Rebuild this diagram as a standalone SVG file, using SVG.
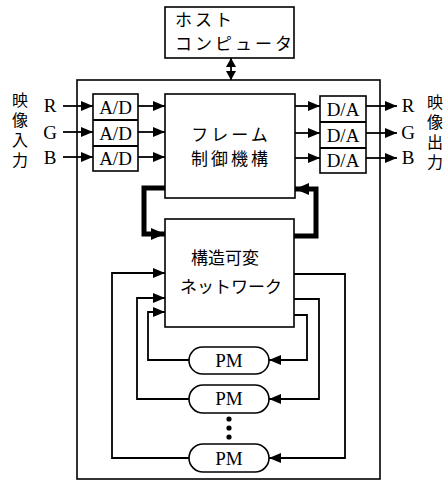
<svg xmlns="http://www.w3.org/2000/svg" width="448" height="488" viewBox="0 0 448 488">
<style>
.box{fill:#fff;stroke:#000;stroke-width:1.6}
.ln{fill:none;stroke:#000;stroke-width:1.8}
.thick{fill:none;stroke:#000;stroke-width:5}
.jp{font-family:"Noto Sans CJK JP","Noto Sans",sans-serif;font-size:17px;fill:#000}
.vt{font-family:"Noto Sans CJK JP","Noto Sans",sans-serif;font-size:16px;fill:#000;writing-mode:vertical-rl;letter-spacing:4px}
.lat{font-family:"Liberation Serif",serif;font-size:19px;fill:#000}
</style>
<defs>
<marker id="ah" markerUnits="userSpaceOnUse" markerWidth="12" markerHeight="10" refX="12" refY="5" orient="auto-start-reverse">
<path d="M0,0 L12,5 L0,10 Z" fill="#000"/>
</marker>
<marker id="ahs" markerUnits="userSpaceOnUse" markerWidth="9" markerHeight="10" refX="9" refY="5" orient="auto-start-reverse">
<path d="M0,0 L9,5 L0,10 Z" fill="#000"/>
</marker>
<marker id="ahb" markerUnits="userSpaceOnUse" markerWidth="14" markerHeight="12" refX="14" refY="6" orient="auto">
<path d="M0,0 L14,6 L0,12 Z" fill="#000"/>
</marker>
</defs>
<rect width="448" height="488" fill="#fff"/>

<g id="outer">
<rect class="box" x="77" y="80" width="303" height="399"/>
</g>

<g id="host">
<rect class="box" x="165" y="7" width="129" height="51"/>
<text class="jp" x="175" y="26" font-size="15" letter-spacing="3">ホスト</text>
<text class="jp" x="175" y="50" font-size="15" letter-spacing="3">コンピュータ</text>
</g>

<g id="input-label">
<text class="vt" x="20" y="92">映像入力</text>
<text class="lat" x="50" y="112" text-anchor="middle">R</text>
<text class="lat" x="50" y="139" text-anchor="middle">G</text>
<text class="lat" x="50" y="164" text-anchor="middle">B</text>
</g>

<g id="ad">
<rect class="box" x="93" y="94" width="45" height="77"/>
<line class="ln" x1="93" y1="120" x2="138" y2="120"/>
<line class="ln" x1="93" y1="146" x2="138" y2="146"/>
<text class="lat" x="115.5" y="114" text-anchor="middle">A/D</text>
<text class="lat" x="115.5" y="140" text-anchor="middle">A/D</text>
<text class="lat" x="115.5" y="165" text-anchor="middle">A/D</text>
</g>

<g id="frame">
<rect class="box" x="165" y="94" width="130" height="104"/>
<text class="jp" x="231" y="141" text-anchor="middle" font-size="16" letter-spacing="3">フレーム</text>
<text class="jp" x="231" y="165" text-anchor="middle" font-size="16" letter-spacing="3">制御機構</text>
</g>

<g id="da">
<rect class="box" x="320" y="96" width="46" height="77"/>
<line class="ln" x1="320" y1="122" x2="366" y2="122"/>
<line class="ln" x1="320" y1="148" x2="366" y2="148"/>
<text class="lat" x="343" y="116" text-anchor="middle">D/A</text>
<text class="lat" x="343" y="142" text-anchor="middle">D/A</text>
<text class="lat" x="343" y="167" text-anchor="middle">D/A</text>
</g>

<g id="output-label">
<text class="lat" x="408" y="112" text-anchor="middle">R</text>
<text class="lat" x="408" y="139" text-anchor="middle">G</text>
<text class="lat" x="408" y="164" text-anchor="middle">B</text>
<text class="vt" x="435" y="94">映像出力</text>
</g>

<g id="network">
<rect class="box" x="165" y="219" width="129" height="108"/>
<text class="jp" x="225" y="264" text-anchor="middle" font-size="18">構造可変</text>
<text class="jp" x="231" y="293" text-anchor="middle" font-size="17">ネットワーク</text>
</g>

<g id="pm1">
<rect class="box" x="189" y="347" width="80" height="27" rx="13.5"/>
<text class="lat" x="229" y="367" text-anchor="middle">PM</text>
</g>
<g id="pm2">
<rect class="box" x="189" y="385" width="80" height="28" rx="14"/>
<text class="lat" x="229" y="405" text-anchor="middle">PM</text>
</g>
<g id="dots">
<circle cx="229" cy="419" r="2.6"/>
<circle cx="229" cy="428" r="2.6"/>
<circle cx="229" cy="437" r="2.6"/>
</g>
<g id="pm3">
<rect class="box" x="189" y="444" width="80" height="28" rx="14"/>
<text class="lat" x="229" y="465" text-anchor="middle">PM</text>
</g>

<g id="connectors">
<line class="ln" x1="231" y1="58" x2="231" y2="80" marker-start="url(#ahs)" marker-end="url(#ahs)"/>
<path class="ln" d="M63,106 H93" marker-end="url(#ah)"/>
<path class="ln" d="M63,132 H93" marker-end="url(#ah)"/>
<path class="ln" d="M63,157 H93" marker-end="url(#ah)"/>
<path class="ln" d="M138,106 H165" marker-end="url(#ah)"/>
<path class="ln" d="M138,132 H165" marker-end="url(#ah)"/>
<path class="ln" d="M138,157 H165" marker-end="url(#ah)"/>
<path class="ln" d="M295,106 H320" marker-end="url(#ah)"/>
<path class="ln" d="M295,133 H320" marker-end="url(#ah)"/>
<path class="ln" d="M295,158 H320" marker-end="url(#ah)"/>
<path class="ln" d="M366,106 H397" marker-end="url(#ah)"/>
<path class="ln" d="M366,133 H397" marker-end="url(#ah)"/>
<path class="ln" d="M366,158 H397" marker-end="url(#ah)"/>
<path class="thick" d="M165,188 H144 V234 H165" marker-end="url(#ahb)"/>
<path class="thick" d="M294,236 H316 V189 H295" marker-end="url(#ahb)"/>
<path class="ln" d="M189,458 H112 V273 H165" marker-end="url(#ah)"/>
<path class="ln" d="M189,399 H137 V298 H165" marker-end="url(#ah)"/>
<path class="ln" d="M189,360 H148 V312 H165" marker-end="url(#ah)"/>
<path class="ln" d="M294,274 H345 V458 H269" marker-end="url(#ah)"/>
<path class="ln" d="M294,299 H319 V399 H269" marker-end="url(#ah)"/>
<path class="ln" d="M294,315 H307 V360 H269" marker-end="url(#ah)"/>
</g>
</svg>
